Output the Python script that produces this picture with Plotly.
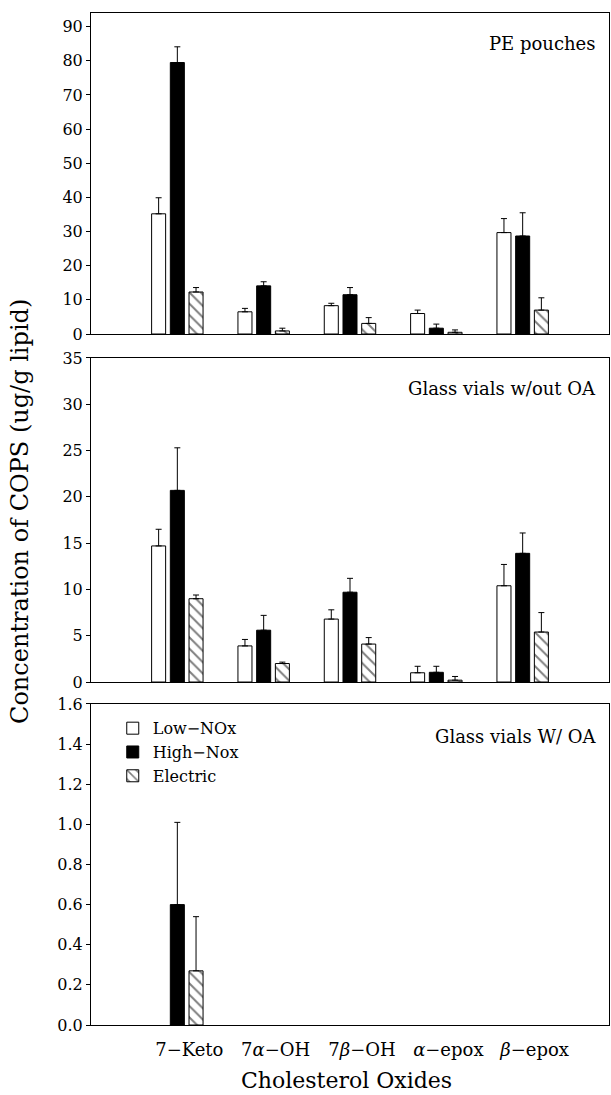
import plotly.graph_objects as go

# ---------------- data ----------------
categories = ["7−Keto", "7<i>α</i>−OH", "7<i>β</i>−OH", "<i>α</i>−epox", "<i>β</i>−epox"]
series_names = ["Low−NOx", "High−Nox", "Electric"]
panel_labels = ["PE pouches", "Glass vials w/out OA", "Glass vials W/ OA"]

# PE pouches
pe_low = [35.2, 6.5, 8.3, 6.0, 29.7]
pe_low_err = [4.7, 1.0, 0.7, 1.0, 4.1]
pe_high = [79.5, 14.1, 11.5, 1.7, 28.7]
pe_high_err = [4.6, 1.2, 2.1, 1.2, 6.8]
pe_elec = [12.3, 0.9, 3.1, 0.5, 7.0]
pe_elec_err = [1.3, 0.8, 1.7, 0.7, 3.6]

# Glass vials without OA
gv_low = [14.7, 3.9, 6.8, 1.0, 10.4]
gv_low_err = [1.8, 0.7, 1.0, 0.7, 2.3]
gv_high = [20.7, 5.6, 9.7, 1.05, 13.9]
gv_high_err = [4.6, 1.6, 1.5, 0.65, 2.2]
gv_elec = [9.0, 2.0, 4.1, 0.2, 5.4]
gv_elec_err = [0.4, 0.15, 0.7, 0.4, 2.1]

# Glass vials with OA (None = not detected, no bar drawn)
oa_low = [None, None, None, None, None]
oa_low_err = [None, None, None, None, None]
oa_high = [0.60, None, None, None, None]
oa_high_err = [0.41, None, None, None, None]
oa_elec = [0.27, None, None, None, None]
oa_elec_err = [0.27, None, None, None, None]

y_ranges = [[0, 94], [0, 35], [0, 1.6]]
y_dtick = [10, 5, 0.2]

# ---------------- figure ----------------
FONT = "DejaVu Serif"
panels = [
    [(pe_low, pe_low_err), (pe_high, pe_high_err), (pe_elec, pe_elec_err)],
    [(gv_low, gv_low_err), (gv_high, gv_high_err), (gv_elec, gv_elec_err)],
    [(oa_low, oa_low_err), (oa_high, oa_high_err), (oa_elec, oa_elec_err)],
]

styles = [
    dict(color="white", line=dict(color="black", width=1)),
    dict(color="black", line=dict(color="black", width=1)),
    dict(color="white", line=dict(color="black", width=1),
         pattern=dict(shape="\\", fgcolor="black", bgcolor="white", size=8, solidity=0.25)),
]

fig = go.Figure()
for p, panel in enumerate(panels):
    suffix = "" if p == 0 else str(p + 1)
    for s, (vals, errs) in enumerate(panel):
        minus = [0 if e is not None else None for e in errs]
        fig.add_trace(go.Bar(
            x=categories, y=vals, name=series_names[s],
            xaxis="x" + suffix, yaxis="y" + suffix,
            marker=styles[s],
            error_y=dict(type="data", array=errs, arrayminus=minus,
                         symmetric=False, color="black", thickness=1, width=3),
            showlegend=(p == 2),
        ))

# domains (plot area 13..1025 px of figure height)
domains = [[0.6828, 1.0], [0.3389, 0.6591], [0.0, 0.3172]]
layout = dict(
    width=611, height=1095,
    margin=dict(l=91, r=2, t=13, b=70),
    paper_bgcolor="white", plot_bgcolor="white",
    barmode="group", bargap=0.35, bargroupgap=0.25,
    font=dict(family=FONT, color="black"),
    legend=dict(x=0.042, y=0.31, xanchor="left", yanchor="top",
                bgcolor="rgba(0,0,0,0)", font=dict(family=FONT, size=16, color="black"),
                tracegroupgap=0, itemwidth=30),
)
for p in range(3):
    suffix = "" if p == 0 else str(p + 1)
    layout["xaxis" + suffix] = dict(
        domain=[0, 1], anchor="y" + suffix, type="category", range=[-1, 5],
        showline=True, linecolor="black", linewidth=1, mirror=True,
        showgrid=False, zeroline=False, ticks="",
        showticklabels=(p == 2), ticklabelshift=12, ticklabelstandoff=8,
        tickfont=dict(family=FONT, size=18, color="black"),
    )
    layout["yaxis" + suffix] = dict(
        domain=domains[p], anchor="x" + suffix, range=y_ranges[p],
        dtick=y_dtick[p], tick0=0,
        tickformat=".1f" if p == 2 else "d",
        showline=True, linecolor="black", linewidth=1, mirror=True,
        showgrid=False, zeroline=False, ticks="outside", ticklen=4,
        tickcolor="black", tickwidth=1,
        tickfont=dict(family=FONT, size=16, color="black"),
    )
fig.update_layout(**layout)

ann_y = [0.970, 0.6294, 0.2846]
for p in range(3):
    fig.add_annotation(text=panel_labels[p], xref="paper", yref="paper",
                       x=0.979, y=ann_y[p], xanchor="right", yanchor="middle",
                       showarrow=False, font=dict(family=FONT, size=18, color="black"))

fig.add_annotation(text="Concentration of COPS (ug/g lipid)", xref="paper", yref="paper",
                   x=-0.137, y=0.507, textangle=-90, xanchor="center", yanchor="middle",
                   showarrow=False, font=dict(family=FONT, size=24, color="black"))
fig.add_annotation(text="Cholesterol Oxides", xref="paper", yref="paper",
                   x=0.494, y=-0.0553, xanchor="center", yanchor="middle",
                   showarrow=False, font=dict(family=FONT, size=22, color="black"))

fig.write_html("out.html")
